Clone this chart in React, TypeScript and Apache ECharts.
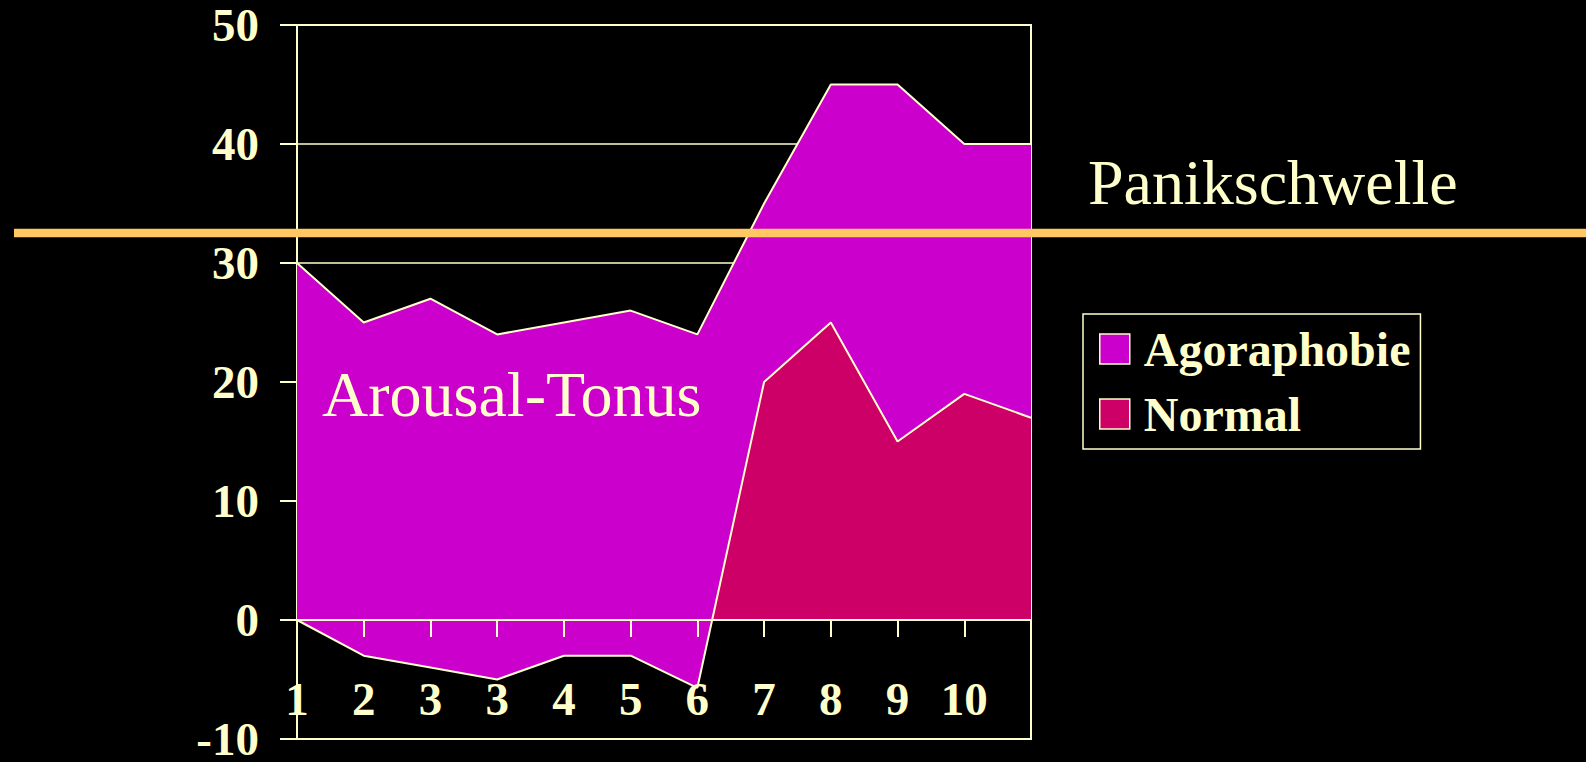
import React, { useEffect, useRef } from "react";
import * as echarts from "echarts";

const categories = ["1", "2", "3", "3", "4", "5", "6", "7", "8", "9", "10", ""];
const agoraphobie = [30, 25, 27, 24, 25, 26, 24, 35, 45, 45, 40, 40];
const normal = [0, -3, -4, -5, -3, -3, -5.7, 20, 25, 15, 19, 17];
const yTicks = { min: -10, max: 50, interval: 10 };
const seriesNames = ["Agoraphobie", "Normal"];

const TXT = "#FFFFCC";
const MAGENTA = "#CC00CC";
const CRIMSON = "#CC0066";
const ORANGE = "#FFC862";
const SERIF = "'Liberation Serif', 'Times New Roman', serif";

export default function App() {
  const ref = useRef<HTMLDivElement>(null);
  useEffect(() => {
    if (!ref.current) return;
    const chart = echarts.init(ref.current, null, { renderer: "svg" });
    // Normal area: crimson above zero, magenta below zero (split at the zero line
    // inside the polygon's bounding box, which spans from max(normal,0) to min(normal,0)).
    const nMax = Math.max(0, ...normal);
    const nMin = Math.min(0, ...normal);
    const zeroOffset = nMax / (nMax - nMin);
    const normalFill = {
      type: "linear",
      x: 0,
      y: 0,
      x2: 0,
      y2: 1,
      colorStops: [
        { offset: 0, color: CRIMSON },
        { offset: zeroOffset, color: CRIMSON },
        { offset: zeroOffset, color: MAGENTA },
        { offset: 1, color: MAGENTA },
      ],
      global: false,
    };
    const labelStyle = {
      color: TXT,
      fontFamily: SERIF,
      fontWeight: "bold",
      fontSize: 47,
    };
    chart.setOption({
      animation: false,
      backgroundColor: "#000000",
      grid: {
        left: 297,
        right: 555,
        top: 25,
        bottom: 23,
        show: true,
        borderColor: TXT,
        borderWidth: 2,
        backgroundColor: "transparent",
        containLabel: false,
        outerBoundsMode: "none",
      },
      legend: {
        data: [
          { name: seriesNames[0], itemStyle: { color: MAGENTA, borderColor: TXT, borderWidth: 1.5 } },
          { name: seriesNames[1], itemStyle: { color: CRIMSON, borderColor: TXT, borderWidth: 1.5 } },
        ],
        orient: "vertical",
        left: 1083,
        top: 314,
        icon: "rect",
        itemWidth: 30,
        itemHeight: 30,
        itemGap: 17,
        padding: [11, 10, 11, 16],
        borderColor: TXT,
        borderWidth: 1.5,
        selectedMode: false,
        textStyle: {
          color: TXT,
          fontFamily: SERIF,
          fontWeight: "bold",
          fontSize: 48,
          padding: [0, 0, 0, 9],
        },
      },
      xAxis: [
        {
          // axis line and ticks on the zero line
          type: "category",
          data: categories,
          boundaryGap: false,
          position: "bottom",
          z: 5,
          axisLine: { onZero: true, lineStyle: { color: TXT, width: 2 } },
          axisTick: { show: true, length: 17, lineStyle: { color: TXT, width: 2 } },
          axisLabel: { show: false },
          splitLine: { show: false },
        },
        {
          // category labels, drawn inside the plot near its bottom edge
          type: "category",
          data: categories,
          boundaryGap: false,
          position: "bottom",
          offset: 0,
          z: 5,
          axisLine: { show: false, onZero: false },
          axisTick: { show: false },
          axisLabel: { ...labelStyle, interval: 0, inside: true, margin: 17 },
          splitLine: { show: false },
        },
      ],
      yAxis: {
        type: "value",
        min: yTicks.min,
        max: yTicks.max,
        interval: yTicks.interval,
        axisLine: { show: true, lineStyle: { color: TXT, width: 2 } },
        axisTick: { show: true, length: 17, lineStyle: { color: TXT, width: 2 } },
        axisLabel: { ...labelStyle, margin: 38, lineHeight: 40 },
        splitLine: { show: true, lineStyle: { color: TXT, width: 1.5 } },
      },
      series: [
        {
          name: seriesNames[0],
          type: "line",
          xAxisIndex: 0,
          data: agoraphobie,
          symbol: "none",
          color: MAGENTA,
          lineStyle: { color: TXT, width: 2 },
          areaStyle: { color: MAGENTA, opacity: 1 },
          z: 2,
        },
        {
          name: seriesNames[1],
          type: "line",
          xAxisIndex: 0,
          data: normal,
          symbol: "none",
          color: CRIMSON,
          lineStyle: { color: TXT, width: 2 },
          areaStyle: { color: normalFill, opacity: 1 },
          z: 3,
        },
      ],
      graphic: [
        {
          type: "line",
          z: 100,
          shape: { x1: 14, y1: 233, x2: 1586, y2: 233 },
          style: { stroke: ORANGE, lineWidth: 8.5 },
        },
        {
          type: "text",
          z: 100,
          left: 1088,
          top: 150,
          style: {
            text: "Panikschwelle",
            fill: TXT,
            font: `64px ${SERIF}`,
          },
        },
        {
          type: "text",
          z: 100,
          left: 322,
          top: 362,
          style: {
            text: "Arousal-Tonus",
            fill: TXT,
            font: `64px ${SERIF}`,
          },
        },
      ],
    });
    return () => chart.dispose();
  }, []);
  return (
    <div
      ref={ref}
      style={{ position: "fixed", left: 0, top: 0, width: 1586, height: 762 }}
    />
  );
}
